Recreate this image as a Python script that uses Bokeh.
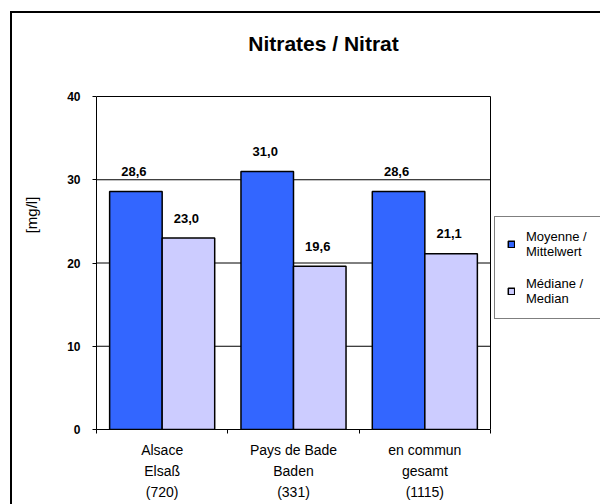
from bokeh.plotting import figure
from bokeh.models import (Range1d, FixedTicker, Legend, LegendItem,
                          ColumnDataSource, LabelSet, Label)
from bokeh.transform import dodge
from bokeh.core.properties import value
from bokeh.embed import file_html
from bokeh.resources import INLINE

# ---- data ----
categories = ["Alsace\nElsaß\n(720)", "Pays de Bade\nBaden\n(331)", "en commun\ngesamt\n(1115)"]
series_names = ["Moyenne /\nMittelwert", "Médiane /\nMedian"]
moyenne = [28.6, 31.0, 28.6]
mediane = [23.0, 19.6, 21.1]
y_ticks = [0, 10, 20, 30, 40]
title_text = "Nitrates / Nitrat"
y_label = "[mg/l]"

FONT = "Liberation Sans"
BLUE = "#3366FF"
LILAC = "#CCCCFF"

# ---- layout (pixels) ----
W, H = 600, 504
AREA_L, AREA_R, AREA_T, AREA_B = 96, 490, 96, 429   # plot area box
n = len(categories)
y_max = y_ticks[-1]
centers = [i + 0.5 for i in range(n)]

# the drawing frame spans from the plot area's left edge to the right border and
# from the top of the canvas to the x axis, so that title & legend are not clipped
x_end = n * (W - AREA_L) / (AREA_R - AREA_L)
y_end = y_max * AREA_B / (AREA_B - AREA_T)


def fmt(v):
    return f"{v:.1f}".replace(".", ",")


src = ColumnDataSource(dict(
    x=centers,
    moy=moyenne,
    med=mediane,
    moy_lbl=[fmt(v) for v in moyenne],
    med_lbl=[fmt(v) for v in mediane],
))

p = figure(width=W, height=H, x_range=Range1d(0, x_end), y_range=Range1d(0, y_end),
           output_backend="svg", toolbar_location=None,
           min_border_left=AREA_L, min_border_right=0, min_border_top=0,
           min_border_bottom=H - AREA_B)

p.background_fill_alpha = 0
p.border_fill_alpha = 0
p.outline_line_color = None
# outer chart frame (its right and bottom sides lie outside the visible window)
p.styles = {
    "background-color": "white",
    "background-image": "linear-gradient(black, black), linear-gradient(black, black)",
    "background-size": "2px 100%, 100% 2px",
    "background-position": "10px 11px, 10px 11px",
    "background-repeat": "no-repeat",
}

# gridlines and right side of the plot-area box
grid_y = y_ticks[1:]
p.segment(x0=[0] * len(grid_y), x1=[n] * len(grid_y), y0=grid_y, y1=grid_y,
          line_color="black", line_width=1, level="underlay")
p.segment(x0=[n], x1=[n], y0=[0], y1=[y_max], line_color="black", line_width=1)

# bars
bw = 0.4
r1 = p.vbar(x=dodge("x", -0.2), top="moy", width=bw, source=src,
            fill_color=BLUE, line_color="black", line_width=1.5)
r2 = p.vbar(x=dodge("x", 0.2), top="med", width=bw, source=src,
            fill_color=LILAC, line_color="black", line_width=1.5)

# value labels
for field, lbl, off in (("moy", "moy_lbl", -0.2), ("med", "med_lbl", 0.2)):
    ls = LabelSet(x=dodge("x", off), y=field, text=lbl, source=src,
                  text_align="center", text_baseline="middle", y_offset=20, x_offset=-2,
                  text_font=value(FONT), text_font_size=value("13px"),
                  text_font_style=value("bold"), text_color="black")
    p.add_layout(ls)

# title
p.add_layout(Label(x=323 - AREA_L, y=AREA_B - 43, x_units="screen", y_units="screen",
                   text=title_text, text_align="center", text_baseline="middle",
                   text_font=FONT, text_font_size="21px", text_font_style="bold",
                   text_color="black"))

# axes
xa = p.xaxis[0]
xa.bounds = (0, n)
xa.ticker = FixedTicker(ticks=centers, minor_ticks=list(range(n + 1)))
xa.major_label_overrides = {c: cat for c, cat in zip(centers, categories)}
xa.major_tick_out = 0
xa.major_tick_in = 0
xa.minor_tick_out = 4
xa.minor_tick_in = 0
xa.minor_tick_line_color = "black"
xa.axis_line_color = "black"
xa.major_label_text_font = FONT
xa.major_label_text_font_size = "14px"
xa.major_label_text_line_height = 1.33
xa.major_label_standoff = 8
xa.major_label_text_color = "black"

ya = p.yaxis[0]
ya.bounds = (0, y_max)
ya.ticker = FixedTicker(ticks=y_ticks, minor_ticks=[])
ya.major_tick_out = 4
ya.major_tick_in = 0
ya.major_tick_line_color = "black"
ya.axis_line_color = "black"
ya.major_label_text_font = FONT
ya.major_label_text_font_size = "12px"
ya.major_label_text_font_style = "bold"
ya.major_label_text_color = "black"
ya.major_label_standoff = 12
ya.axis_label = y_label
ya.axis_label_text_font = FONT
ya.axis_label_text_font_size = "15px"
ya.axis_label_text_font_style = "normal"
ya.axis_label_text_color = "black"
ya.axis_label_standoff = 24

p.xgrid.visible = False
p.ygrid.visible = False

# legend (right of the plot area)
legend = Legend(items=[LegendItem(label=series_names[0], renderers=[r1]),
                       LegendItem(label=series_names[1], renderers=[r2])],
                location=(494 - AREA_L, AREA_B - 319), orientation="vertical")
legend.border_line_color = "black"
legend.border_line_width = 1
legend.background_fill_color = "white"
legend.background_fill_alpha = 1
legend.label_text_font = FONT
legend.label_text_font_size = "13px"
legend.label_text_line_height = 1.3
legend.label_text_color = "black"
legend.glyph_width = 8
legend.glyph_height = 8
legend.label_standoff = 11
legend.padding = 12
legend.spacing = 17
legend.margin = 0
legend.label_width = 100
p.add_layout(legend)

open("out.html", "w").write(file_html(p, INLINE))
